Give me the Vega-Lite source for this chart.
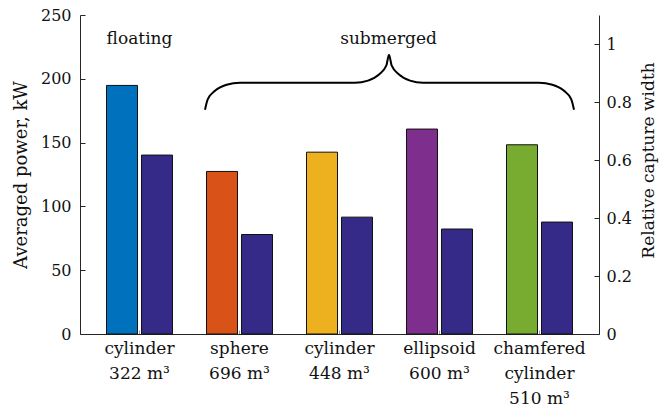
{
  "$schema": "https://vega.github.io/schema/vega-lite/v6.json",
  "width": 519,
  "height": 319,
  "autosize": "none",
  "padding": {"left": 80, "top": 15, "right": 63, "bottom": 75},
  "background": "white",
  "config": {
    "view": {"stroke": null},
    "font": "DejaVu Serif",
    "axis": {
      "labelFont": "DejaVu Serif",
      "titleFont": "DejaVu Serif",
      "labelFontSize": 16,
      "titleFontSize": 18,
      "titleFontWeight": "normal",
      "labelColor": "#111111",
      "titleColor": "#111111",
      "domainColor": "#262626",
      "tickColor": "#262626",
      "grid": false
    }
  },
  "datasets": {
    "bars": [
      {"shape": "cylinder|322 m³", "power": 194.8, "cw": 0.617},
      {"shape": "sphere|696 m³", "power": 127.4, "cw": 0.343},
      {"shape": "cylinder|448 m³", "power": 142.5, "cw": 0.403},
      {"shape": "ellipsoid|600 m³", "power": 160.6, "cw": 0.362},
      {"shape": "chamfered|cylinder|510 m³", "power": 148.3, "cw": 0.386}
    ],
    "brace": [
      {"i": 1, "x": 1.655, "y": 175.8},
      {"i": 2, "x": 1.682, "y": 183.9},
      {"i": 3, "x": 1.758, "y": 190.8},
      {"i": 4, "x": 1.871, "y": 195.3},
      {"i": 5, "x": 2.005, "y": 196.9},
      {"i": 6, "x": 3.155, "y": 196.9},
      {"i": 7, "x": 3.285, "y": 198.6},
      {"i": 8, "x": 3.395, "y": 203.4},
      {"i": 9, "x": 3.469, "y": 210.5},
      {"i": 10, "x": 3.495, "y": 218.9},
      {"i": 11, "x": 3.521, "y": 210.5},
      {"i": 12, "x": 3.595, "y": 203.4},
      {"i": 13, "x": 3.705, "y": 198.6},
      {"i": 14, "x": 3.835, "y": 196.9},
      {"i": 15, "x": 4.995, "y": 196.9},
      {"i": 16, "x": 5.129, "y": 195.3},
      {"i": 17, "x": 5.242, "y": 190.8},
      {"i": 18, "x": 5.318, "y": 183.9},
      {"i": 19, "x": 5.345, "y": 175.8}
    ],
    "notes": [
      {"x": 1.0, "y": 227.5, "label": "floating"},
      {"x": 3.49, "y": 227.5, "label": "submerged"}
    ]
  },
  "layer": [
    {
      "data": {"name": "bars"},
      "mark": {"type": "bar", "stroke": "#111111", "strokeWidth": 1},
      "encoding": {
        "x": {
          "field": "shape", "type": "nominal", "sort": null,
          "scale": {"type": "band", "paddingInner": 0, "paddingOuter": 0.095},
          "axis": {"title": null, "labelAngle": 0, "labelFontSize": 17, "labelExpr": "split(datum.label, '|')", "labelBaseline": "top", "labelLineHeight": 25, "labelPadding": 10, "tickSize": -4, "tickColor": "#999999"}
        },
        "xOffset": {"datum": "power", "scale": {"domain": ["power", "cw"], "paddingInner": 0.114, "paddingOuter": 0.486}},
        "y": {
          "field": "power", "type": "quantitative",
          "scale": {"domain": [0, 250], "nice": false},
          "axis": {"title": "Averaged power, kW", "values": [0, 50, 100, 150, 200, 250], "tickSize": -5, "labelPadding": 14, "titlePadding": 10}
        },
        "color": {
          "field": "shape", "type": "nominal", "sort": null,
          "scale": {"domain": ["cylinder|322 m³", "sphere|696 m³", "cylinder|448 m³", "ellipsoid|600 m³", "chamfered|cylinder|510 m³"], "range": ["#0072BD", "#D95319", "#EDB120", "#7E2F8E", "#77AC30"]},
          "legend": null
        }
      }
    },
    {
      "data": {"name": "bars"},
      "mark": {"type": "bar", "stroke": "#111111", "strokeWidth": 1, "color": "#352A87"},
      "encoding": {
        "x": {
          "field": "shape", "type": "nominal", "sort": null,
          "scale": {"type": "band", "paddingInner": 0, "paddingOuter": 0.095},
          "axis": null
        },
        "xOffset": {"datum": "cw", "scale": {"domain": ["power", "cw"], "paddingInner": 0.114, "paddingOuter": 0.486}},
        "y": {
          "field": "cw", "type": "quantitative",
          "scale": {"domain": [0, 1.1], "nice": false},
          "axis": {"orient": "right", "title": "Relative capture width", "titleFontSize": 17, "titleAngle": 270, "titleBaseline": "top", "titleY": 145, "format": "~g", "values": [0, 0.2, 0.4, 0.6, 0.8, 1], "tickSize": -5, "labelPadding": 12, "titlePadding": 9}
        }
      }
    },
    {
      "data": {"name": "brace"},
      "mark": {"type": "line", "color": "#000000", "strokeWidth": 2, "interpolate": "monotone"},
      "encoding": {
        "x": {"field": "x", "type": "quantitative", "scale": {"domain": [0.405, 5.595], "nice": false, "zero": false}, "axis": null},
        "y": {"field": "y", "type": "quantitative", "scale": {"domain": [0, 250], "nice": false}, "axis": null},
        "order": {"field": "i", "type": "quantitative"}
      }
    },
    {
      "data": {"name": "notes"},
      "mark": {"type": "text", "font": "DejaVu Serif", "fontSize": 17, "color": "#111111", "align": "center", "baseline": "alphabetic"},
      "encoding": {
        "x": {"field": "x", "type": "quantitative", "scale": {"domain": [0.405, 5.595], "nice": false, "zero": false}, "axis": null},
        "y": {"field": "y", "type": "quantitative", "scale": {"domain": [0, 250], "nice": false}, "axis": null},
        "text": {"field": "label", "type": "nominal"}
      }
    }
  ],
  "resolve": {"scale": {"x": "independent", "y": "independent", "xOffset": "independent", "color": "independent"}}
}
